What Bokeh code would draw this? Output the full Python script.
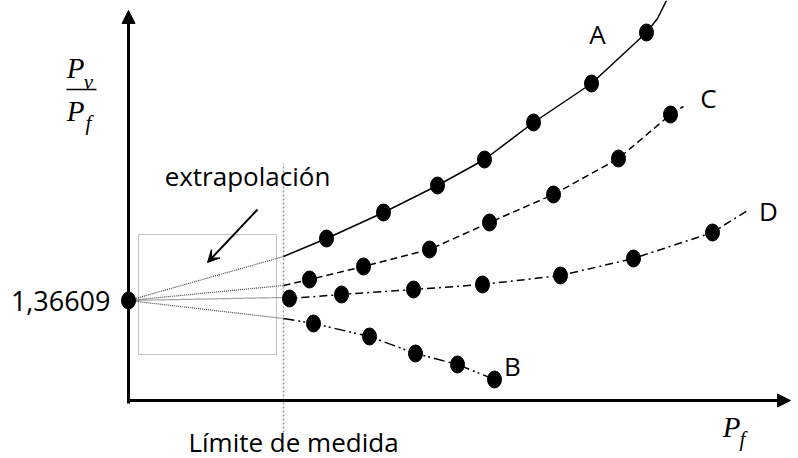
from bokeh.plotting import figure
from bokeh.models import Range1d, Arrow, NormalHead, VeeHead
from bokeh.core.properties import value
from bokeh.embed import file_html
from bokeh.resources import INLINE

# ---- data (schematic units) ----
origin_x, origin_y = 0, 100
origin_label = "1,36609"
limit_x = 155

a_x = [198, 255, 309, 356, 405, 463, 518]
a_y = [162, 188, 215, 241, 278, 317, 368]
a_line_x = [155] + a_x + [529, 538]
a_line_y = [144] + a_y + [382, 400]

c_x = [181, 235, 301, 361, 425, 490, 542]
c_y = [121, 134, 151, 178, 206, 242, 286]
c_line_x = [155] + c_x + [555]
c_line_y = [115] + c_y + [294]

d_x = [161, 213, 285, 354, 432, 505, 584]
d_y = [102, 106, 111, 116, 125, 142, 168]
d_line_x = [155] + d_x + [619]
d_line_y = [103] + d_y + [190]

b_x = [185, 241, 287, 329, 366]
b_y = [77, 64, 47, 36, 21]
b_line_x = [155] + b_x
b_line_y = [82] + b_y

series_labels = ["A", "C", "D", "B"]
label_x = [469, 580, 640, 384]
label_y = [367, 303, 190, 35]

FONT = value("Open Sans")
MATH = value("Liberation Serif")

p = figure(width=798, height=458, x_range=Range1d(-128, 670), y_range=Range1d(-58, 400),
           output_backend="svg", toolbar_location=None, min_border=0)
p.axis.visible = False
p.grid.visible = False
p.outline_line_color = None
p.background_fill_color = "white"
p.border_fill_color = "white"

# extrapolation box
p.quad(left=[10], right=[148], bottom=[46], top=[166], fill_color=None,
       line_color="#c4c4c4", line_width=1)

# limit line
p.segment(x0=[limit_x], y0=[-32], x1=[limit_x], y1=[237], line_color="#999999",
          line_width=1.5, line_dash="2 2")

# extrapolation dotted lines
for lx, ly in [(a_line_x, a_line_y), (c_line_x, c_line_y), (d_line_x, d_line_y), (b_line_x, b_line_y)]:
    p.line([origin_x, lx[0]], [origin_y, ly[0]], line_color="#444444", line_width=1.2, line_dash="1 1")

# curves
p.line(a_line_x, a_line_y, line_color="black", line_width=1.5)
p.line(c_line_x, c_line_y, line_color="black", line_width=1.5, line_dash="7 4")
p.line(d_line_x, d_line_y, line_color="black", line_width=1.5, line_dash="8 4 2 4")
p.line(b_line_x, b_line_y, line_color="black", line_width=1.5, line_dash="11 4 2 3 2 4")

# points
for xs, ys in [(a_x, a_y), (c_x, c_y), (d_x, d_y), (b_x, b_y), ([origin_x], [origin_y])]:
    p.ellipse(xs, ys, width=14, height=17, width_units="screen", height_units="screen",
              fill_color="black", line_color="black")

# axes
p.add_layout(Arrow(end=NormalHead(size=13, fill_color="black", line_color="black"),
                   x_start=0, y_start=-3, x_end=0, y_end=390, line_width=3, line_color="black"))
p.add_layout(Arrow(end=NormalHead(size=13, fill_color="black", line_color="black"),
                   x_start=-1, y_start=0, x_end=662, y_end=0, line_width=3, line_color="black"))

# annotation arrow
p.add_layout(Arrow(end=VeeHead(size=12, fill_color="black", line_color="black"),
                   x_start=129, y_start=191, x_end=79, y_end=138, line_width=2, line_color="black"))

# texts
p.text([119], [225], text=["extrapolación"], text_font=FONT, text_font_size="26px",
       text_align="center", text_baseline="middle", text_color="black")
p.text([165], [-41], text=["Límite de medida"], text_font=FONT, text_font_size="26px",
       text_align="center", text_baseline="middle", text_color="black")
p.text([-18], [origin_y], text=[origin_label], text_font=FONT, text_font_size="27px",
       text_align="right", text_baseline="middle", text_color="black")
p.text(label_x, label_y, text=series_labels, text_font=FONT, text_font_size="26px",
       text_align="center", text_baseline="middle", text_color="black")

# math labels
p.text([-53, -53, 603], [333, 290, -26], text=["P", "P", "P"], text_font=MATH,
       text_font_style="italic", text_font_size="29px", text_align="center",
       text_baseline="middle", text_color="black")
p.text([-40, -40, 614], [319, 278, -38], text=["v", "f", "f"], text_font=MATH,
       text_font_style="italic", text_font_size="21px", text_align="center",
       text_baseline="middle", text_color="black")
p.segment(x0=[-62], y0=[311], x1=[-32], y1=[311], line_color="black", line_width=1.5)

open("out.html", "w").write(file_html(p, INLINE))
